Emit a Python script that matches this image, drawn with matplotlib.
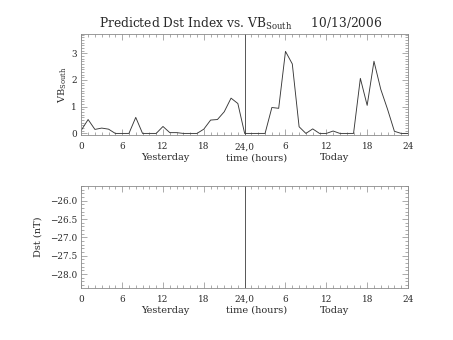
import numpy as np
import matplotlib
matplotlib.use("Agg")
import matplotlib.pyplot as plt
from matplotlib.ticker import MultipleLocator, FixedLocator, FixedFormatter

# Hourly VB_South over yesterday (0-23) and today (24-48)
hours = list(range(0, 49))
vb_south = [0.12, 0.52, 0.15, 0.20, 0.16, 0.0, 0.0, 0.0, 0.60, 0.0,
            0.0, 0.0, 0.26, 0.03, 0.03, 0.0, 0.0, 0.0, 0.16, 0.50,
            0.52, 0.81, 1.32, 1.12, 0.0, 0.0, 0.0, 0.0, 0.97, 0.94,
            3.07, 2.60, 0.25, 0.0, 0.17, 0.0, 0.0, 0.09, 0.0, 0.0,
            0.0, 2.06, 1.05, 2.70, 1.65, 0.90, 0.08, 0.0, 0.0]

xtick_pos = [0, 6, 12, 18, 24, 30, 36, 42, 48]
xtick_labels = ["0", "6", "12", "18", "24,0", "6", "12", "18", "24"]
dst_ticks = [-26.0, -26.5, -27.0, -27.5, -28.0]
dst_labels = ["\u221226.0", "\u221226.5", "\u221227.0", "\u221227.5", "\u221228.0"]

title_main = r"Predicted Dst Index vs. VB$_{\mathrm{South}}$"
title_date = "10/13/2006"

plt.rcParams["font.family"] = "DejaVu Serif"
plt.rcParams["mathtext.fontset"] = "dejavuserif"
plt.rcParams["text.color"] = "#2a2a2a"
plt.rcParams["xtick.labelcolor"] = "#2a2a2a"
plt.rcParams["ytick.labelcolor"] = "#2a2a2a"

W, H = 453, 340
fig = plt.figure(figsize=(W / 100, H / 100), dpi=100)

frame_col = "#8a8a8a"
line_col = "#383838"


def px_axes(left, top, right, bottom):
    return fig.add_axes([left / W, 1 - bottom / H, (right - left) / W, (bottom - top) / H])


def style_axes(ax):
    for s in ax.spines.values():
        s.set_color(frame_col)
        s.set_linewidth(0.6)
    ax.tick_params(which="both", direction="in", top=True, right=True,
                   color=frame_col, width=0.5, labelsize=6.4)
    ax.tick_params(which="major", length=4.5)
    ax.tick_params(which="minor", length=2)
    ax.tick_params(axis="x", pad=5.0)
    ax.tick_params(axis="y", pad=3.0)
    ax.set_xlim(0, 48)
    ax.xaxis.set_major_locator(FixedLocator(xtick_pos))
    ax.xaxis.set_major_formatter(FixedFormatter(xtick_labels))
    ax.xaxis.set_minor_locator(MultipleLocator(1))
    ax.axvline(24, color="#555555", lw=0.7)


def xtitle(ax_bottom_px):
    y = 1 - (ax_bottom_px + 22.5) / H
    fig.text(165.5 / W, y, "Yesterday", ha="center", va="center", fontsize=7.0)
    fig.text(257 / W, y, "time (hours)", ha="center", va="center", fontsize=7.0)
    fig.text(334.5 / W, y, "Today", ha="center", va="center", fontsize=7.0)


# Upper panel: VB_South
ax1 = px_axes(81.3, 34, 408, 135.3)
style_axes(ax1)
ax1.plot(hours, vb_south, color=line_col, lw=0.65)
ax1.set_ylim(-0.07, 3.72)
ax1.yaxis.set_major_locator(MultipleLocator(1))
ax1.yaxis.set_minor_locator(MultipleLocator(0.1))
xtitle(135.3)
fig.text(62.5 / W, 1 - 84.7 / H, r"VB$_{\mathrm{South}}$", rotation=90,
         ha="center", va="center", fontsize=7.0)

# Lower panel: predicted Dst
ax2 = px_axes(81.3, 186, 408, 287.7)
style_axes(ax2)
ax2.set_ylim(-28.37, -25.6)
ax2.yaxis.set_major_locator(FixedLocator(dst_ticks))
ax2.yaxis.set_major_formatter(FixedFormatter(dst_labels))
ax2.yaxis.set_minor_locator(MultipleLocator(0.1))
xtitle(287.7)
fig.text(38 / W, 1 - 236.8 / H, "Dst (nT)", rotation=90,
         ha="center", va="center", fontsize=7.0)

# Title
fig.text(240.5 / W, 1 - 24 / H, title_main + "     " + title_date,
         ha="center", va="center", fontsize=8.8)

fig.savefig("out.png", dpi=100)
